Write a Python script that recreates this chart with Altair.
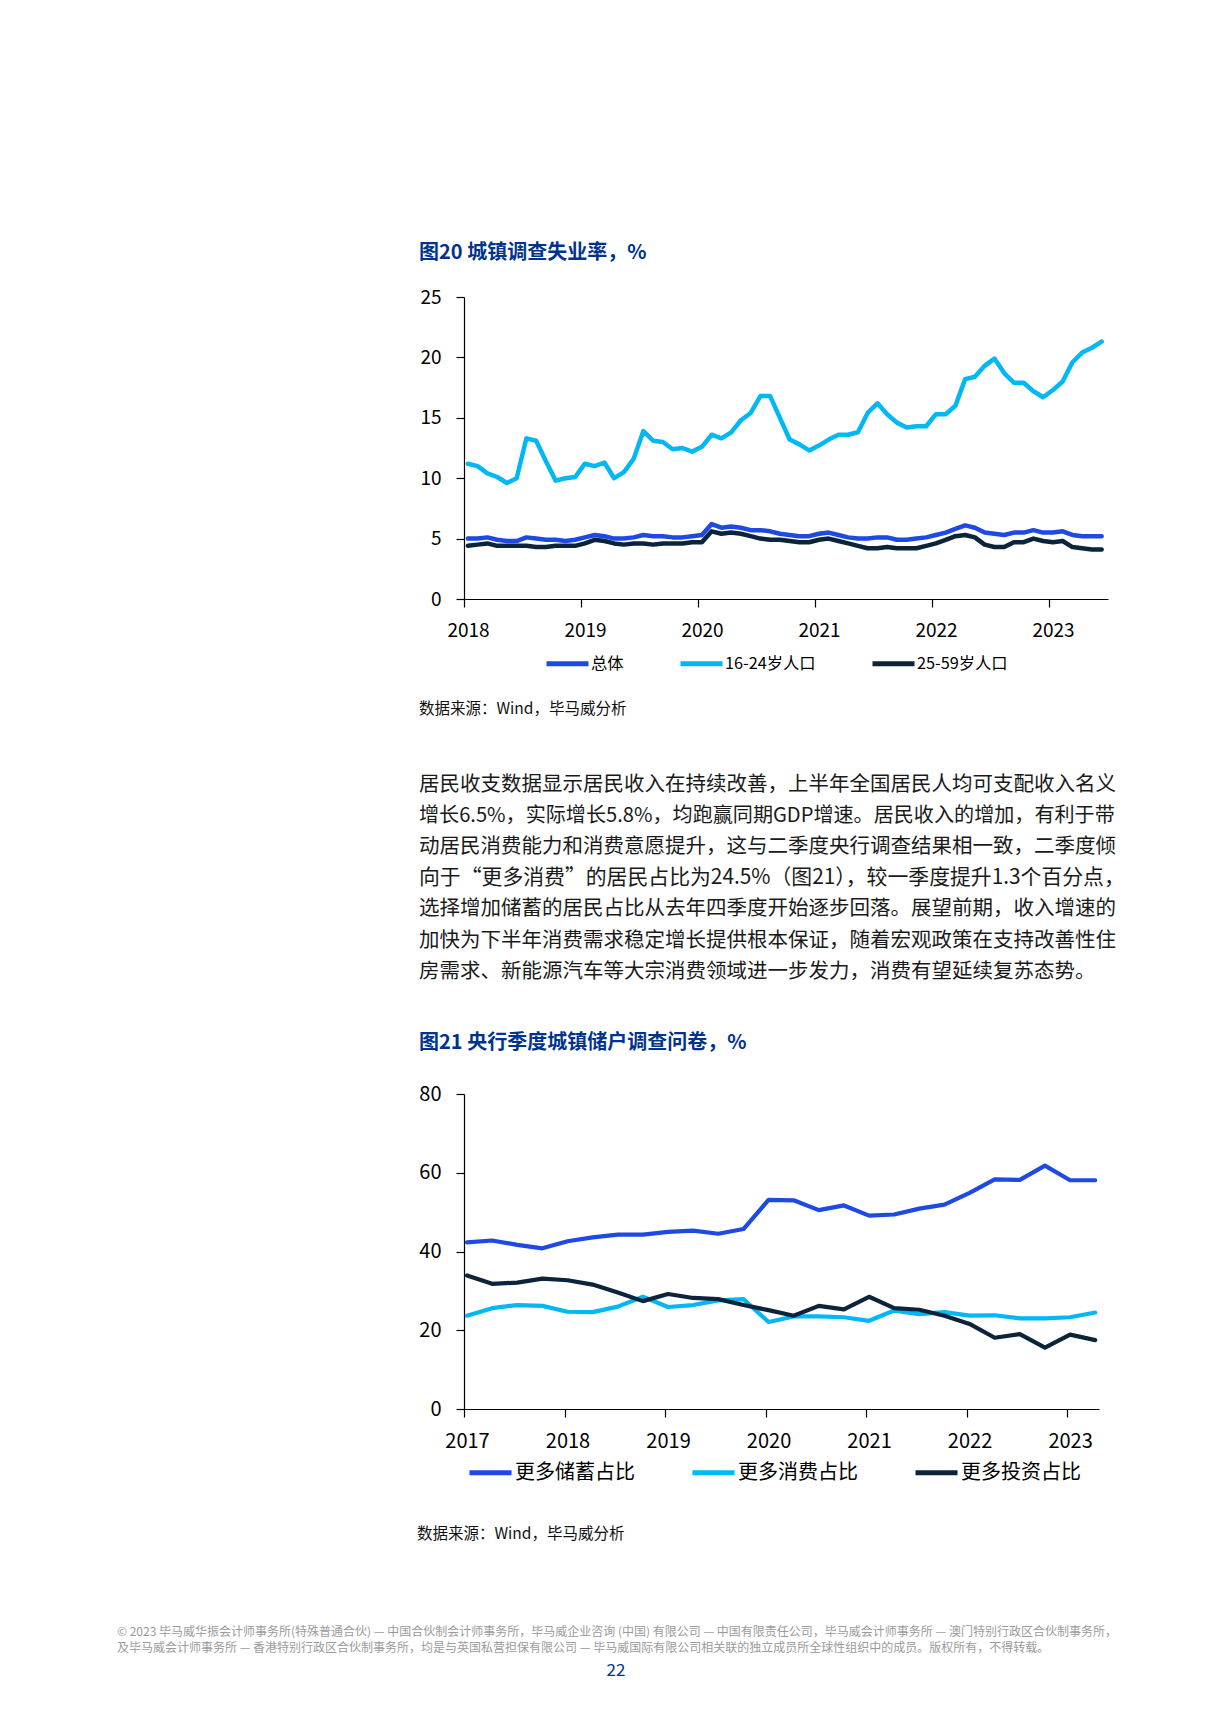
import altair as alt
import pandas as pd

FONT = "Noto Sans CJK SC"
KPMG_BLUE = "#00338D"

# ---------------- Figure 20 data (monthly, Jan 2018 - Jun 2023) ----------------
start_year1 = 2018
names1 = ["总体", "16-24岁人口", "25-59岁人口"]
colors = ["#1E49E2", "#00B8F5", "#0C233C"]
total = [5.0, 5.0, 5.1, 4.9, 4.8, 4.8, 5.1, 5.0, 4.9, 4.9, 4.8, 4.9,
         5.1, 5.3, 5.2, 5.0, 5.0, 5.1, 5.3, 5.2, 5.2, 5.1, 5.1, 5.2,
         5.3, 6.2, 5.9, 6.0, 5.9, 5.7, 5.7, 5.6, 5.4, 5.3, 5.2, 5.2,
         5.4, 5.5, 5.3, 5.1, 5.0, 5.0, 5.1, 5.1, 4.9, 4.9, 5.0, 5.1,
         5.3, 5.5, 5.8, 6.1, 5.9, 5.5, 5.4, 5.3, 5.5, 5.5, 5.7, 5.5,
         5.5, 5.6, 5.3, 5.2, 5.2, 5.2]
youth = [11.2, 11.0, 10.4, 10.1, 9.6, 10.0, 13.3, 13.1, 11.4, 9.8, 10.0, 10.1,
         11.2, 11.0, 11.3, 10.0, 10.5, 11.6, 13.9, 13.1, 13.0, 12.4, 12.5, 12.2,
         12.6, 13.6, 13.3, 13.8, 14.8, 15.4, 16.8, 16.8, 15.0, 13.2, 12.8, 12.3,
         12.7, 13.2, 13.6, 13.6, 13.8, 15.4, 16.2, 15.3, 14.6, 14.2, 14.3, 14.3,
         15.3, 15.3, 16.0, 18.2, 18.4, 19.3, 19.9, 18.7, 17.9, 17.9, 17.2, 16.7,
         17.3, 18.0, 19.6, 20.4, 20.8, 21.3]
prime = [4.4, 4.5, 4.6, 4.4, 4.4, 4.4, 4.4, 4.3, 4.3, 4.4, 4.4, 4.4,
         4.6, 4.9, 4.8, 4.6, 4.5, 4.6, 4.6, 4.5, 4.6, 4.6, 4.6, 4.7,
         4.7, 5.6, 5.4, 5.5, 5.4, 5.2, 5.0, 4.9, 4.9, 4.8, 4.7, 4.7,
         4.9, 5.0, 4.8, 4.6, 4.4, 4.2, 4.2, 4.3, 4.2, 4.2, 4.2, 4.4,
         4.6, 4.9, 5.2, 5.3, 5.1, 4.5, 4.3, 4.3, 4.7, 4.7, 5.0, 4.8,
         4.7, 4.8, 4.3, 4.2, 4.1, 4.1]
y1_ticks = [0, 5, 10, 15, 20, 25]

# ---------------- Figure 21 data (quarterly, 2017Q1 - 2023Q2) ----------------
start_year2 = 2017
names2 = ["更多储蓄占比", "更多消费占比", "更多投资占比"]
saving = [42.3, 42.8, 41.7, 40.8, 42.6, 43.6, 44.3, 44.3, 45.0, 45.3, 44.5, 45.7,
          53.1, 53.0, 50.5, 51.7, 49.1, 49.4, 50.9, 51.9, 54.9, 58.3, 58.2, 61.8,
          58.1, 58.1]
consume = [23.7, 25.6, 26.4, 26.2, 24.7, 24.6, 26.0, 28.5, 25.9, 26.4, 27.6, 27.9,
           22.1, 23.5, 23.5, 23.3, 22.4, 25.0, 24.1, 24.6, 23.7, 23.8, 23.0, 23.0,
           23.3, 24.5]
invest = [33.9, 31.8, 32.1, 33.1, 32.7, 31.6, 29.6, 27.4, 29.2, 28.2, 27.9, 26.4,
          25.1, 23.7, 26.2, 25.3, 28.5, 25.6, 25.2, 23.7, 21.6, 18.1, 19.0, 15.6,
          18.9, 17.5]
y2_ticks = [0, 20, 40, 60, 80]

# ---------------- Texts ----------------
title1 = "图20  城镇调查失业率，%"
title2 = "图21  央行季度城镇储户调查问卷，%"
source = "数据来源：Wind，毕马威分析"
paragraph = [
    "居民收支数据显示居民收入在持续改善，上半年全国居民人均可支配收入名义",
    "增长6.5%，实际增长5.8%，均跑赢同期GDP增速。居民收入的增加，有利于带",
    "动居民消费能力和消费意愿提升，这与二季度央行调查结果相一致，二季度倾",
    "向于“更多消费”的居民占比为24.5%（图21），较一季度提升1.3个百分点，",
    "选择增加储蓄的居民占比从去年四季度开始逐步回落。展望前期，收入增速的",
    "加快为下半年消费需求稳定增长提供根本保证，随着宏观政策在支持改善性住",
    "房需求、新能源汽车等大宗消费领域进一步发力，消费有望延续复苏态势。",
]
para_sizes = [20.5, 20.1, 20.5, 20.85, 20.5, 20.5, 20.5]
footer = [
    "© 2023 毕马威华振会计师事务所(特殊普通合伙) — 中国合伙制会计师事务所，毕马威企业咨询 (中国) 有限公司 — 中国有限责任公司，毕马威会计师事务所 — 澳门特别行政区合伙制事务所，",
    "及毕马威会计师事务所 — 香港特别行政区合伙制事务所，均是与英国私营担保有限公司 — 毕马威国际有限公司相关联的独立成员所全球性组织中的成员。版权所有，不得转载。",
]
page_no = "22"

# ---------------- Tables ----------------
rows1 = []
for name, vals in zip(names1, [total, youth, prime]):
    for i, v in enumerate(vals):
        rows1.append({"m": i, "v": v, "s": name})
df1 = pd.DataFrame(rows1)

rows2 = []
for name, vals in zip(names2, [saving, consume, invest]):
    for i, v in enumerate(vals):
        rows2.append({"q": i, "v": v, "s": name})
df2 = pd.DataFrame(rows2)

one = alt.Data(values=[{"k": 1}])


def txt(text, x, y, size, color="#111111", weight="normal", align="left",
        baseline="middle", opacity=1, line_height=None):
    kw = dict(text=text, font=FONT, fontSize=size, color=color, fontWeight=weight,
              align=align, baseline=baseline, opacity=opacity)
    if line_height is not None:
        kw["lineHeight"] = line_height
    return alt.Chart(one).mark_text(**kw).encode(x=alt.value(x), y=alt.value(y))


axis_common = dict(title=None, grid=False, domainColor="#000000", domainWidth=1.2,
                   tickColor="#000000", tickWidth=1.2, tickSize=8, labelFlush=False,
                   labelFont=FONT, labelColor="#000000")

# ---------------- Chart A (figure 20 + text) ----------------
W1, H1 = 644, 302
off1 = 0.4
x1 = alt.X("m:Q",
           scale=alt.Scale(domain=[-off1, 65.65], nice=False, zero=False),
           axis=alt.Axis(values=[-off1 + 12 * k for k in range(6)],
                         labelExpr=f"toString({start_year1} + round((datum.value + {off1}) / 12))",
                         labelFontSize=19, labelPadding=14, labelOffset=4, **axis_common))
y1 = alt.Y("v:Q", scale=alt.Scale(domain=[0, 25], nice=False),
           axis=alt.Axis(values=y1_ticks, labelFontSize=19, labelPadding=15, **axis_common))
c1 = alt.Color("s:N", scale=alt.Scale(domain=names1, range=colors),
               legend=alt.Legend(orient="none", legendX=80, legendY=343, direction="horizontal",
                                 title=None, symbolType="stroke", symbolSize=1764,
                                 symbolStrokeWidth=5, labelFont=FONT, labelFontSize=16.3,
                                 labelColor="#000000", columnPadding=46, labelOffset=0))
lines1 = alt.Chart(df1).mark_line(strokeWidth=4.5, strokeCap="round", strokeJoin="round").encode(
    x=x1, y=y1, color=c1)

ox1, oy1 = 463, 297
para_layers = [
    txt(line, 418 - ox1, 785 + 31.1 * i - oy1, para_sizes[i], "#1a1a1a")
    for i, line in enumerate(paragraph)
]
chartA = alt.layer(
    lines1,
    txt(title1, 418 - ox1, 253 - oy1, 20, KPMG_BLUE, "bold"),
    txt(source, 418 - ox1, 709 - oy1, 15.5, "#111111"),
    *para_layers,
    txt(title2, 418 - ox1, 1043 - oy1, 20, KPMG_BLUE, "bold"),
    txt("©", 118 - ox1, 0, 12, "#ffffff", opacity=0),
).properties(width=W1, height=H1)

# ---------------- Chart B (figure 21 + footer) ----------------
W2, H2 = 635, 315
off2 = 0.12
x2 = alt.X("q:Q",
           scale=alt.Scale(domain=[-off2, 25.15], nice=False, zero=False),
           axis=alt.Axis(values=[-off2 + 4 * k for k in range(7)],
                         labelExpr=f"toString({start_year2} + round((datum.value + {off2}) / 4))",
                         labelFontSize=20, labelPadding=14, labelOffset=3, **axis_common))
y2 = alt.Y("v:Q", scale=alt.Scale(domain=[0, 80], nice=False),
           axis=alt.Axis(values=y2_ticks, labelFontSize=20, labelPadding=15, **axis_common))
c2 = alt.Color("s:N", scale=alt.Scale(domain=names2, range=colors),
               legend=alt.Legend(orient="none", legendX=3, legendY=355, direction="horizontal",
                                 title=None, symbolType="stroke", symbolSize=1764,
                                 symbolStrokeWidth=5, labelFont=FONT, labelFontSize=20,
                                 labelColor="#000000", columnPadding=47, labelOffset=1))
lines2 = alt.Chart(df2).mark_line(strokeWidth=4.2, strokeCap="round", strokeJoin="round").encode(
    x=x2, y=y2, color=c2)

ox2, oy2 = 465, 1095
chartB = alt.layer(
    lines2,
    txt(source, 418 - ox2, 1535 - oy2, 15.5, "#111111"),
    txt(footer, 118 - ox2, 1635 - oy2 - 7, 12.0, "#9b9b9b", baseline="top", line_height=15.5),
    txt(page_no, 617 - ox2, 1672 - oy2, 17, KPMG_BLUE, align="center"),
).properties(width=W2, height=H2)

chart = alt.concat(chartA, chartB, columns=1, spacing=31, align="none").resolve_scale(
    color="independent", x="independent", y="independent"
).resolve_legend(color="independent").properties(
    padding={"left": 109, "top": 235, "right": 10, "bottom": 10}
).configure(
    font=FONT, background="#ffffff", view=alt.ViewConfig(stroke=None)
)

chart.save("out.html", embed_options={"renderer": "svg", "actions": False})
